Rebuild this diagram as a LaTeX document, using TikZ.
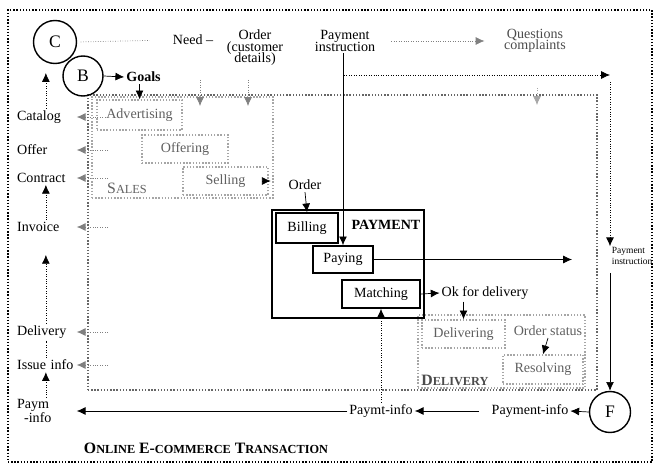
\documentclass[tikz,border=0pt]{standalone}
\usepackage{fontspec}
\setmainfont{Liberation Serif}
\usetikzlibrary{arrows.meta}

\tikzset{
  box/.style={rectangle,draw,thick,font=\footnotesize,minimum height=0.56cm},
  softbox/.style={rectangle,draw=gray!70,densely dotted,thick,text=gray!75!black,font=\footnotesize,minimum height=0.56cm},
  area/.style={rectangle,draw=gray!80!black,densely dotted,thick},
  lbl/.style={font=\footnotesize,align=center,inner sep=1pt},
  side/.style={font=\footnotesize,anchor=west,text width=1.15cm,align=left,inner sep=1pt},
  circ/.style={circle,draw,thick,minimum size=0.86cm,font=\normalsize},
  arr/.style={-{Latex[length=5pt,width=4.5pt]}},
  dotarr/.style={densely dotted,-{Latex[length=5pt,width=4.5pt]}},
}

\begin{document}
\begin{tikzpicture}
    \useasboundingbox (0,0) rectangle (13.08,9.32);

    % frames
    \node (outer) at (6.6,4.6) [rectangle,draw,densely dotted,thick,minimum width=12.88cm,minimum height=9.04cm] {};
    \node (main) at (6.85,4.47) [area,minimum width=10.18cm,minimum height=5.9cm] {};
    \node (sales) at (3.65,6.37) [area,draw=gray!70,minimum width=3.62cm,minimum height=2.02cm] {};
    \node (payment) at (6.96,4.04) [rectangle,draw,thick,minimum width=3.04cm,minimum height=2.16cm] {};
    \node (delivery) at (10.03,2.29) [area,draw=gray!70,minimum width=3.34cm,minimum height=1.46cm] {};

    % nodes
    \node (c) at (1.1,8.48) [circ] {C};
    \node (b) at (1.66,7.8) [circ,minimum size=0.8cm] {B};
    \node (need) at (3.86,8.52) [lbl] {Need --};
    \node (order) at (5.1,8.36) [lbl,align=center] {Order\\[-3pt](customer\\[-3pt]details)};
    \node (payinst) at (6.9,8.5) [lbl] {Payment\\[-3pt]instruction};
    \node (questions) at (10.7,8.5) [lbl,text=gray!60!black] {Questions\\[-3pt]complaints};
    \node (goals) at (2.87,7.78) [lbl,font=\footnotesize\bfseries] {Goals};

    \node (adv) at (2.79,7.02) [softbox,minimum width=1.7cm,minimum height=0.6cm] {Advertising};
    \node (off) at (3.7,6.34) [softbox,minimum width=1.72cm] {Offering};
    \node (sell) at (4.51,5.7) [softbox,minimum width=1.7cm] {Selling};
    \node at (2.54,5.56) [lbl,text=gray!75!black] {\small S{\scriptsize ALES}};

    \node (order2) at (6.1,5.62) [lbl] {Order};
    \node (bill) at (6.14,4.76) [box,minimum width=1.24cm,minimum height=0.6cm] {Billing};
    \node (pay) at (6.86,4.13) [box,minimum width=1.2cm,minimum height=0.54cm] {Paying};
    \node (match) at (7.62,3.44) [box,minimum width=1.56cm] {Matching};
    \node at (7.72,4.82) [lbl,font=\footnotesize\bfseries] {PAYMENT};
    \node (okdel) at (9.7,3.46) [lbl] {Ok for delivery};

    \node (deliv) at (9.27,2.64) [softbox,minimum width=1.66cm] {Delivering};
    \node (ostatus) at (10.96,2.7) [lbl,text=gray!75!black] {Order status};
    \node (resolv) at (10.86,1.93) [softbox,minimum width=1.6cm,minimum height=0.58cm] {Resolving};
    \node at (9.1,1.72) [lbl,text=gray!60!black] {\small\bfseries D{\scriptsize ELIVERY}};

    \node (payinst2) at (12.22,4.2) [lbl,anchor=west,align=left,inner sep=0.3pt,font=\fontsize{5.4}{6.5}\selectfont] {Payment\\instruction};
    \node (f) at (12.2,1.08) [circ,minimum size=0.82cm] {F};
    \node (payinfo) at (10.6,1.1) [lbl] {Payment-info};
    \node (paymt) at (7.62,1.1) [lbl] {Paymt-info};

    \node (catalog) at (0.3,6.98) [side] {Catalog};
    \node (offer) at (0.3,6.32) [side] {Offer};
    \node (contract) at (0.3,5.76) [side] {Contract};
    \node (invoice) at (0.3,4.78) [side] {Invoice};
    \node (delivery2) at (0.3,2.68) [side] {Delivery};
    \node (issue) at (0.3,2.02) [side] {Issue info};
    \node (paym) at (0.3,1.1) [side] {Paym\\[-2pt]\hspace{4pt}-info};

    \node at (4.12,0.36) [lbl,font=\small\bfseries] {O{\scriptsize NLINE} E-{\scriptsize COMMERCE} T{\scriptsize RANSACTION}};

    % free ends
    \coordinate (lft) at (2.16,0);
    \coordinate (needa) at (4.0,7.72);
    \coordinate (needb) at (4.0,7.2);
    \coordinate (orda) at (4.96,7.72);
    \coordinate (ordb) at (4.96,7.2);
    \coordinate (qa) at (10.74,7.56);
    \coordinate (qb) at (10.74,7.22);
    \coordinate (pibr) at (6.88,7.82);
    \coordinate (picor) at (12.2,7.82);
    \coordinate (payout) at (11.44,4.13);

    % paths
    \draw[densely dotted,gray,shorten <=2pt,shorten >=12pt] (c.east) to (need.west); % C -- need
    \draw[arr] (b.east) to (goals.west); % B -> goals
    \draw[arr] (adv.north |- goals.south) to (adv.north); % goals -> advertising
    \draw[dotarr,gray] (needa) to (needb);
    \draw[dotarr,gray] (orda) to (ordb);
    \draw[dotarr,gray,shorten <=8pt,shorten >=10pt] (payinst.east) to (questions.west); % -> questions
    \draw[dotarr,gray!70] (qa) to (qb);

    \draw[arr] (pay.north |- payinst.south) to (pay.north); % instruction -> paying
    \draw[dotarr] (pibr) to (picor);
    \draw[dotarr] ([yshift=-4pt]picor) to (picor |- payinst2.north);
    \draw[arr,shorten <=4pt] (f.north |- payinst2.south) to (f.north); % -> F
    \draw[arr] (pay.east) to (payout);

    \draw[arr,shorten >=9pt] (sell.east) to (order2.west |- sell.east); % selling ->
    \draw[arr] (order2.south) to (bill.north); % order -> billing
    \draw[arr] (match.east) to (okdel.west); % matching -> ok
    \draw[arr] (deliv.north |- okdel.south) to (deliv.north); % ok -> delivering
    \draw[arr] (ostatus.south) to (resolv.north); % status -> resolving

    \draw[arr] (f.west) to (payinfo.east); % F -> payment-info
    \draw[arr,shorten <=6pt] (payinfo.west) to (paymt.east);
    \draw[dotarr] (paymt.north) to (paymt.north |- match.south); % -> matching
    \draw[arr] (paymt.west) to (paymt.west -| paym.east); % -> paym-info

    % left column
    \draw[dotarr,gray] (lft |- catalog.east) to (catalog.east);
    \draw[dotarr,gray] (lft |- offer.east) to (offer.east);
    \draw[dotarr,gray] (lft |- contract.east) to (contract.east);
    \draw[dotarr,gray] (lft |- invoice.east) to (invoice.east);
    \draw[dotarr,gray] (lft |- delivery2.east) to (delivery2.east);
    \draw[dotarr,gray] (lft |- issue.east) to (issue.east);
    \draw[dotarr,shorten >=5pt] (catalog.north) to (catalog.north |- c.south);
    \draw[dotarr] (invoice.north) to (contract.south);
    \draw[dotarr,shorten >=12pt] (delivery2.north) to (invoice.south);
    \draw[densely dotted] (issue.north) to (delivery2.south);
    \draw[dotarr] (paym.north) to (issue.south);

\end{tikzpicture}
\end{document}
